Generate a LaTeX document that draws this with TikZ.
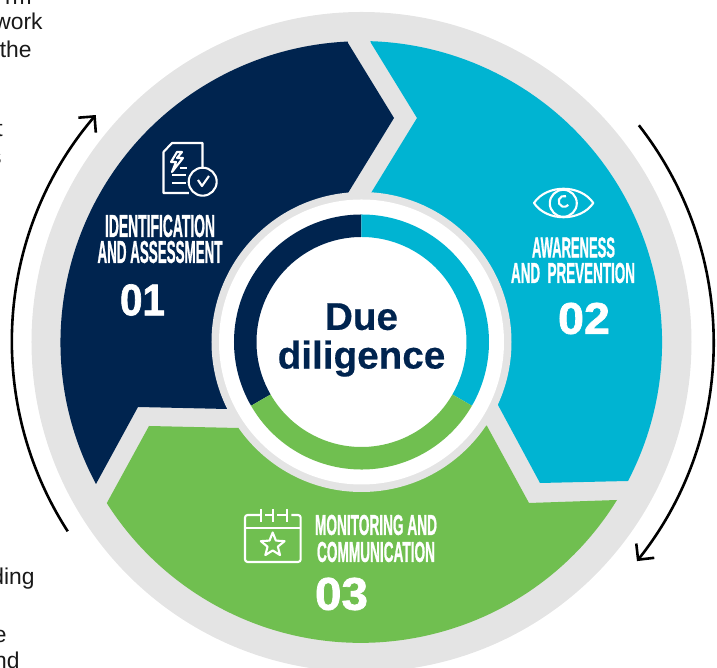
\documentclass[tikz,border=0pt]{standalone}
\usepackage{fontspec}
\setmainfont{Liberation Sans}
\newfontface\heavyface[FakeBold=1.5]{Liberation Sans Bold}
\newfontface\titleface[FakeBold=0.4]{Liberation Sans Bold}
\usetikzlibrary{arrows.meta,shapes.geometric}

\definecolor{navyseg}{HTML}{00244F}
\definecolor{blueseg}{HTML}{00B4D2}
\definecolor{greenseg}{HTML}{70BF50}
\definecolor{ringgrey}{HTML}{E4E4E4}

\newcommand{\capline}[3]{\resizebox{#1cm}{#2cm}{\heavyface #3}}

\begin{document}
\begin{tikzpicture}[x=0.02cm,y=0.02cm,
    heading/.style={inner sep=0pt,outer sep=0pt,text=white},
    fragment/.style={anchor=base east,inner sep=0pt,text=black!90,font=\fontsize{13}{15}\selectfont},
    icon/.style={draw=white,line width=0.042cm,line join=round},
    turn/.style={line width=0.052cm,-{Straight Barb[length=0.23cm,width=0.46cm]}}]

    \useasboundingbox (-361.5,-326) rectangle (355.5,342);
    \clip (-361.5,-326) rectangle (355.5,342);

    \fill[ringgrey] (0,0) circle (330);

    \fill[navyseg] (-13.5,299) -- (32.5,224) -- (-13.5,149) -- (0,0) -- (-134.5,-67) -- (-223.5,-65) -- (-265.5,-142) arc[start angle=208.1,end angle=92.6,radius=301] -- cycle;
    \fill[blueseg] (9.5,299) -- (55.5,224) -- (9.5,149) -- (0,0) -- (136.5,-63) -- (178.5,-141) -- (266.5,-139) arc[start angle=-27.5,end angle=88.2,radius=301] -- cycle;
    \fill[greenseg] (-212.5,-84) -- (-123.5,-86) -- (0,0) -- (125.5,-84) -- (167.5,-161) -- (255.5,-158) arc[start angle=-31.7,end angle=-147.6,radius=301] -- cycle;

    \fill[ringgrey] (0,0) circle (150);
    \fill[white] (0,0) circle (142.5);

    \foreach \from/\to/\col in {90/210/navyseg,90/-30/blueseg,210/330/greenseg}
        \fill[\col] (\from:127.5) arc[start angle=\from,end angle=\to,radius=127.5] -- (\to:105) arc[start angle=\to,end angle=\from,radius=105] -- cycle;

    \node[inner sep=0pt,align=center,text=navyseg,font=\fontsize{22}{22}\titleface] (duelabel) at (0,2) {Due\\diligence};

    \draw[turn] (212.8:349.5) arc[start angle=212.8,end angle=139.5,radius=349.5];
    \draw[turn] (38:352) arc[start angle=38,end angle=-38.5,radius=352];

    \node[heading] (identline) at (-201.5,116) {\capline{2.2}{0.44}{IDENTIFICATION}};
    \node[heading] (assessline) at (-201.5,90) {\capline{2.5}{0.44}{AND ASSESSMENT}};
    \node[heading] (numone) at (-219,42) {\capline{0.9}{0.62}{01}};

    \node[heading] (awareline) at (212,94.5) {\capline{1.66}{0.4}{AWARENESS}};
    \node[heading] (preventline) at (211.5,69) {\capline{2.48}{0.4}{AND\ \ PREVENTION}};
    \node[heading] (numtwo) at (222.5,23.5) {\capline{1.04}{0.62}{02}};

    \node[heading] (monitorline) at (14.5,-183) {\capline{2.44}{0.4}{MONITORING AND}};
    \node[heading] (commline) at (14.5,-210) {\capline{2.36}{0.4}{COMMUNICATION}};
    \node[heading] (numthree) at (-20,-252) {\capline{1.06}{0.64}{03}};

    \draw[icon] (-172.5,149) -- (-198,149) -- (-198,190) -- (-189.5,199) -- (-159,199) -- (-159,174);
    \draw[icon] (-184.5,190) -- (-190.5,180) -- (-185.5,180) -- (-189.5,170) -- (-178.5,184) -- (-184.5,184) -- (-179.5,190) -- cycle;
    \draw[icon] (-181.5,174) -- (-174.5,174);
    \draw[icon] (-189.5,167) -- (-175.5,167);
    \draw[icon] (-189.5,159) -- (-175.5,159);
    \draw[icon] (-158.8,160.3) circle (14);
    \draw[icon] (-163.5,162) -- (-159.5,156) -- (-152.5,166);

    \draw[icon] (172.5,139) .. controls (185,158) and (219,158) .. (231.8,139) .. controls (219,120) and (185,120) .. cycle;
    \draw[icon] (201.8,138.7) circle (13.5);
    \draw[icon] (204.5,145.8) arc[start angle=70,end angle=320,radius=5.5];

    \draw[icon,rounded corners=1.5pt] (-100.8,-173) -- (-116.5,-173) -- (-116.5,-220) -- (-60.8,-220) -- (-60.8,-173) -- (-70,-173);
    \draw[icon] (-116.5,-186) -- (-60.8,-186);
    \foreach \tickx in {-100.8,-88.8,-74.8}
        \draw[icon] (\tickx,-167) -- (\tickx,-180);
    \draw[icon] (-96,-173) -- (-88.8,-173);
    \draw[icon] (-84,-173) -- (-74.8,-173);
    \node[icon,star,star points=5,star point ratio=2.3,minimum size=0.5cm,inner sep=0pt] (starmark) at (-88.8,-203) {};

    \node[fragment] (fragrm) at (-329.5,337) {rm};
    \node[fragment] (fragwork) at (-318.5,312) {work};
    \node[fragment] (fragthe) at (-329.5,284) {the};
    \node[fragment] (fragt) at (-358.5,205) {t};
    \node[fragment] (frags) at (-359.5,177) {s};
    \node[fragment] (fragdot) at (-360,149) {.};
    \node[fragment] (fragding) at (-326.5,-243) {ding};
    \node[fragment] (frage) at (-354.5,-301) {e};
    \node[fragment] (fragnd) at (-341.5,-327) {nd};

\end{tikzpicture}
\end{document}
